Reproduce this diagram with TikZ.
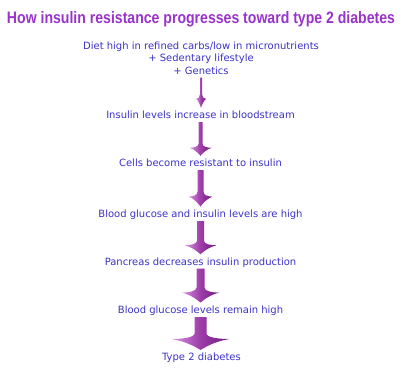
\documentclass[tikz,border=0pt]{standalone}
\usepackage{fontspec}
\setmainfont{DejaVu Sans}
\newfontfamily\titlefont{Liberation Sans}
\usetikzlibrary{calc}
\definecolor{txtblue}{HTML}{3C32C8}
\definecolor{ttlpurple}{HTML}{9933CC}
\definecolor{arrlight}{HTML}{DA94E0}
\definecolor{arrmid}{HTML}{9C3CA8}
\definecolor{arrdark}{HTML}{6E1A7E}
\tikzset{
  txt/.style={text=txtblue, font=\fontsize{10pt}{12.4pt}\selectfont, inner sep=0pt,
              text height=7.5pt, text depth=2.5pt, anchor=base},
  multitxt/.style={text=txtblue, font=\fontsize{10pt}{12.4pt}\selectfont, inner sep=0pt,
              align=center, anchor=north},
  ttl/.style={text=ttlpurple, inner sep=0pt, anchor=base},
  arrowfill/.style={left color=arrlight, right color=arrdark, middle color=arrmid}
}
% #1 from node, #2 to node, #3 shaft half width, #4 head half width, #5 head length, #6 top gap
\newcommand\fatarrow[6]{%
  \path[arrowfill] let \p1=($(#1.south)+(0,#6)$), \p2=($(#2.north)+(0,-3)$),
      \p3=(0pt,{\y2+#5pt}), \p4=(0pt,{\y2+#5pt+0.5*#5pt}) in
    ({\x1-#3pt},\y1) -- ({\x1+#3pt},\y1) -- ({\x1+#3pt},\y4)
    .. controls ({\x1+#3pt},{\y3+0.15*#5pt}) and ({\x1+0.6*#4pt},\y3) .. ({\x1+#4pt},\y3)
    .. controls ({\x1+0.5*#4pt},{\y3-0.2*#5pt}) and ({\x1+0.12*#4pt},{\y2+0.2*#5pt}) .. (\x1,\y2)
    .. controls ({\x1-0.12*#4pt},{\y2+0.2*#5pt}) and ({\x1-0.5*#4pt},{\y3-0.2*#5pt}) .. ({\x1-#4pt},\y3)
    .. controls ({\x1-0.6*#4pt},\y3) and ({\x1-#3pt},{\y3+0.15*#5pt}) .. ({\x1-#3pt},\y4)
    -- cycle;}
\begin{document}
\begin{tikzpicture}[x=1pt,y=-1pt]
  \fill[white] (0,0) rectangle (404,375);
  \useasboundingbox (0,0) rectangle (404,375);
  \node[ttl] (title) at (201,23.3) {\resizebox{388pt}{12pt}{\titlefont\bfseries How insulin resistance progresses toward type 2 diabetes}};
  \node[multitxt] (n0) at (201,41.7) {Diet high in refined carbs/low in micronutrients\\+ Sedentary lifestyle\\+ Genetics};
  \node[txt] (n1) at (200.5,118.5) {Insulin levels increase in bloodstream};
  \node[txt] (n2) at (200.5,166.5) {Cells become resistant to insulin};
  \node[txt] (n3) at (200.5,217.3) {Blood glucose and insulin levels are high};
  \node[txt] (n4) at (200.5,265) {Pancreas decreases insulin production};
  \node[txt] (n5) at (200.5,313.3) {Blood glucose levels remain high};
  \node[txt] (n6) at (201.5,360.7) {Type 2 diabetes};
  \fatarrow{n0}{n1}{1}{5}{9}{3}
  \fatarrow{n1}{n2}{2}{11}{8}{1}
  \fatarrow{n2}{n3}{3}{12}{10}{1}
  \fatarrow{n3}{n4}{3.5}{16}{9}{1}
  \fatarrow{n4}{n5}{4}{19}{10}{1}
  \fatarrow{n5}{n6}{6}{29}{11}{1}
\end{tikzpicture}
\end{document}
